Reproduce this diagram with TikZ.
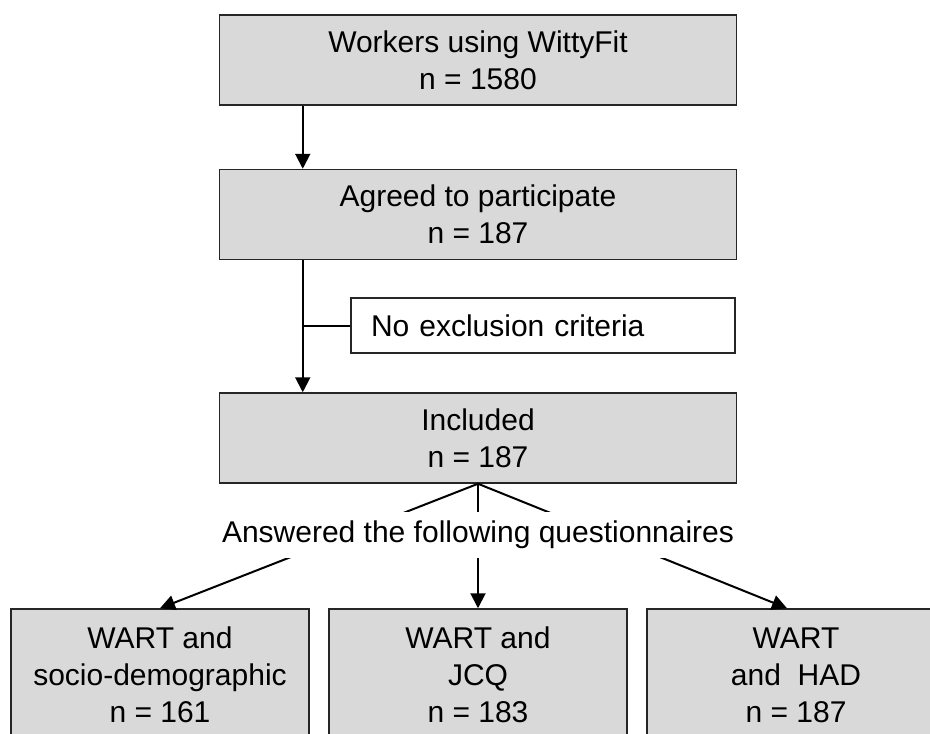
\documentclass[tikz,border=0pt]{standalone}
\usepackage{fontspec}
\setmainfont{Liberation Sans}
\usetikzlibrary{arrows.meta,calc}
\definecolor{boxgray}{HTML}{D9D9D9}
\tikzset{
  flowtext/.style={font=\fontsize{30}{37}\selectfont,align=center},
  stagebox/.style={flowtext,draw=black!85,line width=1.5pt,fill=boxgray,inner sep=0pt,minimum width=517pt,minimum height=90pt},
  qbox/.style={stagebox,minimum width=298pt,minimum height=132pt},
  exclbox/.style={flowtext,draw=black!85,line width=1.5pt,fill=white,align=left,text width=344pt,inner xsep=20pt,inner ysep=0pt,minimum height=55pt},
  flowarrow/.style={line width=2pt,-{Triangle[length=15pt,width=15pt]}}
}
\begin{document}
\begin{tikzpicture}[x=1pt,y=-1pt]
    \useasboundingbox (0,0) rectangle (930,734);
    \clip (0,0) rectangle (930,734);
    %main boxes
    \node[stagebox] (workers) at (478,60) {Workers using WittyFit\\n = 1580};
    \node[stagebox] (agreed) at (478,214.5) {Agreed to participate\\n = 187};
    \node[exclbox] (excl) at (543,325.5) {No exclusion criteria};
    \node[stagebox] (incl) at (478,438) {Included\\n = 187};

    %questionnaire boxes
    \node[qbox] (wartSocio) at (160,675) {WART and\\socio-demographic\\n = 161};
    \node[qbox] (wartJcq) at (478,675) {WART and\\JCQ\\n = 183};
    \node[qbox] (wartHad) at (796,675) {WART\\and~ HAD\\n = 187};

    %arrows
    \coordinate (trunk) at ([xshift=84pt]agreed.south west);
    \draw[flowarrow] ([xshift=84pt]workers.south west) -- ([xshift=84pt]agreed.north west);
    \draw[flowarrow] (trunk) -- ([xshift=84pt]incl.north west);
    \draw[line width=2pt] (excl.west) -- (excl.west -| trunk);

    \draw[flowarrow] (incl.south) -- (wartSocio.north);
    \draw[flowarrow] (incl.south) -- (wartJcq.north);
    \draw[flowarrow] (incl.south) -- ([xshift=-9pt]wartHad.north);

    %label over the arrows
    \node[flowtext,fill=white,inner xsep=3pt,inner ysep=9pt] (answered) at (478,535) {Answered the following questionnaires};
\end{tikzpicture}
\end{document}
